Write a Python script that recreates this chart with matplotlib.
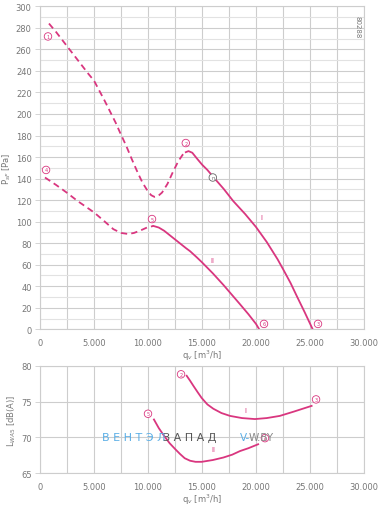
import matplotlib
matplotlib.use("Agg")
import matplotlib.pyplot as plt
import numpy as np

PINK = "#d9367f"
GRID = "#cdcdcd"
GRID_MINOR = "#e2e2e2"
TXT = "#777777"

# ---- pressure curves (top) ----
c1_dash_x = [830, 1500, 2500, 3500, 4500, 5000, 6000, 7000, 7400, 8000, 8500, 9070,
             9500, 10000, 10300, 10600, 10900, 11300, 11800, 12300, 12800, 13200, 13500]
c1_dash_y = [284, 276, 263, 250, 237, 231, 212, 192, 183, 170, 158, 145,
             136, 128, 124.5, 123, 123.5, 127, 135, 146, 156, 162, 164.5]
c1_sol_x = [13500, 13750, 14100, 14500, 15000, 15500, 16000, 17000, 17900, 19000,
            20000, 21000, 22000, 22500, 23200, 23770, 24500, 25250]
c1_sol_y = [164.5, 165.5, 164, 159, 153, 148, 142, 130.5, 119, 107,
            95, 81, 65, 56, 43, 31, 16, 0]

c2_dash_x = [460, 1500, 2470, 3500, 5000, 6000, 6790, 7500, 8180, 8700, 9260, 9900, 10500]
c2_dash_y = [141, 134, 127, 119, 108.6, 100, 93, 89.5, 88.5, 89.5, 91.6, 94.5, 96]
c2_sol_x = [10500, 11000, 11500, 12000, 12500, 13000, 13500, 13900, 14500, 14970,
            16000, 17000, 17600, 18500, 19300, 20000, 20300]
c2_sol_y = [96, 94.5, 91.5, 87.5, 83.5, 79.5, 75.5, 72.5, 67, 62.5,
            52, 41, 34, 23.5, 14, 5, 0]

# ---- sound level curves (bottom) ----
s1_x = [13580, 13900, 14200, 14600, 14970, 15500, 16050, 16800, 17600, 18700,
        19900, 21000, 22200, 23500, 25150]
s1_y = [78.6, 77.9, 77.2, 76.3, 75.5, 74.6, 74.0, 73.4, 73.0, 72.7,
        72.56, 72.7, 73.0, 73.6, 74.4]
s2_x = [10550, 11000, 11500, 12000, 12500, 12960, 13400, 13900, 14400, 14970,
        16000, 16980, 17800, 18520, 19300, 20200]
s2_y = [72.5, 71.3, 70.2, 69.2, 68.4, 67.7, 67.1, 66.75, 66.6, 66.6,
        66.85, 67.2, 67.6, 68.1, 68.5, 69.05]

# point markers
top_pts = [("1", 740, 272), ("4", 560, 148), ("2", 13500, 173), ("5", 10370, 102.4),
           ("6", 20740, 5), ("3", 25740, 5)]
bot_pts = [("2", 13060, 78.8), ("5", 10000, 73.3), ("3", 25560, 75.3), ("6", 20830, 69.9)]

x_ticks = [0, 5000, 10000, 15000, 20000, 25000, 30000]
x_tick_labels = ["0", "5.000", "10.000", "15.000", "20.000", "25.000", "30.000"]
p_ticks = list(range(0, 301, 20))
l_ticks = [65, 70, 75, 80]

W, H = 381, 506
fig = plt.figure(figsize=(W / 100, H / 100), dpi=100)
ax1 = fig.add_axes([40 / W, 1 - 330.3 / H, 324 / W, (330.3 - 7.3) / H])
ax2 = fig.add_axes([40 / W, 1 - 474.3 / H, 324 / W, (474.3 - 366.7) / H])

lw = 1.3
dash = (0, (3.5, 2.3))

def style(ax, ylim, yt, minor_h):
    ax.set_xlim(0, 30000)
    ax.set_ylim(*ylim)
    for xv in np.arange(0, 30001, 2500):
        ax.axvline(xv, color=GRID, lw=0.8, zorder=0)
    for yv in minor_h:
        ax.axhline(yv, color=GRID_MINOR, lw=0.8, zorder=0)
    for yv in yt:
        ax.axhline(yv, color=GRID, lw=0.8, zorder=0)
    ax.set_xticks(x_ticks)
    ax.set_xticklabels(x_tick_labels)
    ax.set_yticks(yt)
    ax.tick_params(axis="x", length=0, pad=6, labelsize=6, colors=TXT)
    ax.tick_params(axis="y", length=3.5, width=0.6, pad=2.5, labelsize=6,
                   colors=TXT, color=GRID)
    for s in ax.spines.values():
        s.set_color(GRID)
        s.set_linewidth(0.8)

style(ax1, (0, 300), p_ticks, list(range(10, 300, 20)))
style(ax2, (65, 80), l_ticks, [])

ax1.plot(c1_dash_x, c1_dash_y, color=PINK, lw=lw, ls=dash)
ax1.plot(c1_sol_x, c1_sol_y, color=PINK, lw=lw)
ax1.plot(c2_dash_x, c2_dash_y, color=PINK, lw=lw, ls=dash)
ax1.plot(c2_sol_x, c2_sol_y, color=PINK, lw=lw)
ax2.plot(s1_x, s1_y, color=PINK, lw=lw)
ax2.plot(s2_x, s2_y, color=PINK, lw=lw)

def circ(ax, t, x, y, col=PINK):
    ax.text(x, y, t, fontsize=3.6, color=col, ha="center", va="center",
            bbox=dict(boxstyle="circle,pad=0.25", fc="white", ec=col, lw=0.6), zorder=5)

for t, x, y in top_pts:
    circ(ax1, t, x, y)
circ(ax1, "n", 16000, 141, col="#666666")
for t, x, y in bot_pts:
    circ(ax2, t, x, y)

ax1.text(20460, 104, "I", color=PINK, fontsize=5, ha="center", va="center")
ax1.text(16000, 64, "II", color=PINK, fontsize=5, ha="center", va="center")
ax2.text(18980, 73.8, "I", color=PINK, fontsize=5, ha="center", va="center")
ax2.text(16020, 68.4, "II", color=PINK, fontsize=5, ha="center", va="center")

ax1.text(29400, 292, "80288", rotation=270, fontsize=5, color=TXT, ha="center", va="top")

ax1.set_ylabel(r"P$_{sF}$ [Pa]", fontsize=6, color=TXT, labelpad=2)
ax2.set_ylabel(r"L$_{WA5}$ [dB(A)]", fontsize=6, color=TXT, labelpad=2)
ax1.set_xlabel(r"q$_v$ [m$^3$/h]", fontsize=6, color=TXT, labelpad=1)
ax2.set_xlabel(r"q$_v$ [m$^3$/h]", fontsize=6, color=TXT, labelpad=1)

# watermark
fy = 1 - 438 / H
fig.text(102 / W, fy, "В Е Н Т Э Л", fontsize=8, color="#5aaee6", ha="left", va="center")
fig.text(163 / W, fy, "З А П А Д", fontsize=8, color="#555555", ha="left", va="center")
fig.text(240 / W, fy, "V-", fontsize=7.5, color="#5aaee6", ha="left", va="center")
fig.text(248.5 / W, fy, "W.BY", fontsize=7.5, color="#888888", ha="left", va="center")

fig.savefig("out.png", dpi=100, facecolor="white")
